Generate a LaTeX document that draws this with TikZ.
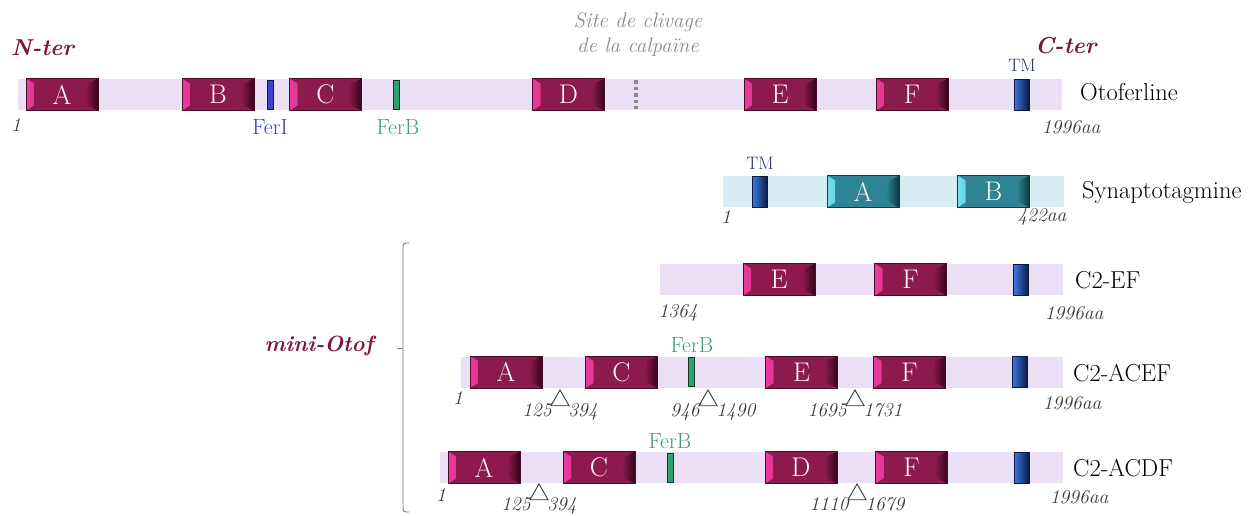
\documentclass[tikz,border=0pt]{standalone}
\usepackage{fontspec}
\usetikzlibrary{shapes.geometric}

\definecolor{barLilac}{HTML}{EBDFF5}
\definecolor{synBlue}{HTML}{D8EDF3}
\definecolor{domMaroon}{HTML}{8C1A4C}
\definecolor{domPink}{HTML}{EC3A9C}
\definecolor{domDark}{HTML}{330619}
\definecolor{domEdge}{HTML}{4A0C26}
\definecolor{tealMain}{HTML}{2E8494}
\definecolor{tealLight}{HTML}{6FE0F0}
\definecolor{tealDark}{HTML}{0C3840}
\definecolor{tealEdge}{HTML}{0F3A44}
\definecolor{tmNavy}{HTML}{0C1840}
\definecolor{tmBlue}{HTML}{3A7AE8}
\definecolor{ferIBlue}{HTML}{3842D4}
\definecolor{ferBGreen}{HTML}{2FA070}
\definecolor{terRed}{HTML}{7A1441}
\definecolor{ferITxt}{HTML}{3A3AC8}
\definecolor{ferBTxt}{HTML}{3A9E72}
\definecolor{tmTxt}{HTML}{1F2E6E}
\definecolor{siteGray}{HTML}{8A8A8A}
\definecolor{numGray}{HTML}{3A3A3A}

\begin{document}
\begin{tikzpicture}
[x=1pt,y=-1pt,%
  barDecorate/.style={fill=barLilac,draw=none,inner sep=0pt,minimum height=31pt},%
  bevelDecorate/.style n args={4}{draw=#4,line width=0.7pt,fill=#1,inner sep=0pt,
    minimum width=72pt,minimum height=32pt,text=white!92!pink,
    font=\fontsize{27}{27}\selectfont,
    path picture={
      \fill[left color=#2,right color=#1]
        (path picture bounding box.north west)
        -- ([xshift=8pt,yshift=-5pt]path picture bounding box.north west)
        -- ([xshift=8pt,yshift=5pt]path picture bounding box.south west)
        -- (path picture bounding box.south west) -- cycle;
      \fill[left color=#1,right color=#3]
        (path picture bounding box.north east)
        -- ([xshift=-10pt,yshift=-5pt]path picture bounding box.north east)
        .. controls ([xshift=-13pt,yshift=-3pt]path picture bounding box.east) ..
        ([xshift=-10pt,yshift=5pt]path picture bounding box.south east)
        -- (path picture bounding box.south east) -- cycle;
    }},%
  c2Decorate/.style={bevelDecorate={domMaroon}{domPink}{domDark}{domEdge}},%
  tealDecorate/.style={bevelDecorate={tealMain}{tealLight}{tealDark}{tealEdge}},%
  tmDecorate/.style={draw=tmNavy,line width=0.8pt,left color=tmBlue,right color=tmNavy,
    inner sep=0pt,minimum width=15pt,minimum height=31pt},%
  ferDecorate/.style={draw=#1!35!black,line width=0.8pt,fill=#1,
    inner sep=0pt,minimum width=6pt,minimum height=29pt},%
  delDecorate/.style={shape=regular polygon,regular polygon sides=3,draw=numGray,
    line width=0.9pt,inner sep=0pt,outer sep=0pt,minimum size=21pt},%
  numDecorate/.style={text=numGray,inner sep=0pt,font=\fontsize{19.5}{19.5}\selectfont\itshape},%
  nameDecorate/.style={anchor=west,inner sep=0pt,font=\fontsize{24.5}{24.5}\selectfont},%
  terDecorate/.style={text=terRed,inner sep=0pt,font=\fontsize{23}{23}\selectfont\bfseries\itshape},%
  tagDecorate/.style={inner sep=0pt,font=\fontsize{22}{22}\selectfont},%
  tmTag/.style={inner sep=0pt,text=tmTxt,font=\fontsize{18}{18}\selectfont}]
\useasboundingbox (0,0) rectangle (1255,515);
%% otoferline
\node[barDecorate,minimum width=1044pt] (oto) at (540,94.5) {};
\foreach \nodename/\x in {A/62,B/218,C/325.5,D/568.5,E/780,F/912}
  \node[c2Decorate] (oto\nodename) at (\x,94.5) {\nodename};
\node[ferDecorate=ferIBlue] (otoFerI) at (270.5,94.5) {};
\node[ferDecorate=ferBGreen] (otoFerB) at (396.5,94.5) {};
\node[tmDecorate] (otoTM) at (1021.5,94.5) {};
\draw[siteGray,line width=3.5pt,dash pattern=on 3.5pt off 3pt] (636,80) -- (636,109);
\node[terDecorate,anchor=west] at (11,48) {N-ter};
\node[terDecorate,anchor=west] at (1035,46) {C-ter};
\node[tmTag] at (1022,65) {TM};
\node[tagDecorate,text=ferITxt] at (270,127) {FerI};
\node[tagDecorate,text=ferBTxt] at (398,127) {FerB};
\node[tagDecorate,text=siteGray,font=\fontsize{21}{21}\selectfont\itshape] at (638,22) {Site de clivage};
\node[tagDecorate,text=siteGray,font=\fontsize{21}{21}\selectfont\itshape] at (638,47) {de la calpaïne};
\node[numDecorate] at (16,125) {1};
\node[numDecorate] at (1071,127) {1996aa};
\node[nameDecorate] at (1080,92) {Otoferline};
%% synaptotagmine
\node[barDecorate,fill=synBlue,minimum width=341pt] (syn) at (893.5,191.5) {};
\foreach \nodename/\x in {A/863,B/993.5}
  \node[tealDecorate] (syn\nodename) at (\x,191.5) {\nodename};
\node[tmDecorate] (synTM) at (760,191.5) {};
\node[tmTag] at (760,163) {TM};
\node[numDecorate] at (726,217) {1};
\node[numDecorate] at (1042,217) {422aa};
\node[nameDecorate] at (1082,192) {Synaptotagmine};
%% C2-EF
\node[barDecorate,minimum width=403pt] (ef) at (861.5,279.5) {};
\foreach \nodename/\x in {E/779,F/910.5}
  \node[c2Decorate] (ef\nodename) at (\x,279.5) {\nodename};
\node[tmDecorate] (efTM) at (1021,279.5) {};
\node[numDecorate] at (678,313) {1364};
\node[numDecorate] at (1074,313) {1996aa};
\node[nameDecorate] at (1075,280) {C2-EF};
%% C2-ACEF
\node[barDecorate,minimum width=602pt] (acef) at (762,372) {};
\foreach \nodename/\x in {A/506,C/621.5,E/801.5,F/909.5}
  \node[c2Decorate] (acef\nodename) at (\x,372) {\nodename};
\node[ferDecorate=ferBGreen] (acefFerB) at (691,372) {};
\node[tmDecorate] (acefTM) at (1019.5,372) {};
\node[tagDecorate,text=ferBTxt] at (692,345) {FerB};
\foreach \tri/\x/\lo/\hi in {1/560/125/394,2/708/946/1490,3/855/1695/1731}
{
  \node[delDecorate] (acefT\tri) at (\x,400.5) {};
  \node[numDecorate,anchor=north east] at ([xshift=1pt,yshift=2pt]acefT\tri.corner 2) {\lo};
  \node[numDecorate,anchor=north west] at ([xshift=-1pt,yshift=2pt]acefT\tri.corner 3) {\hi};
}
\node[numDecorate] at (458,398) {1};
\node[numDecorate] at (1072,403) {1996aa};
\node[nameDecorate] at (1073,373) {C2-ACEF};
%% C2-ACDF
\node[barDecorate,minimum width=623pt] (acdf) at (751.5,467.5) {};
\foreach \nodename/\x in {A/484,C/599,D/801,F/911.5}
  \node[c2Decorate] (acdf\nodename) at (\x,467.5) {\nodename};
\node[ferDecorate=ferBGreen] (acdfFerB) at (670,467.5) {};
\node[tmDecorate] (acdfTM) at (1021.5,467.5) {};
\node[tagDecorate,text=ferBTxt] at (670,441) {FerB};
\foreach \tri/\x/\lo/\hi in {1/539/125/394,2/857/1110/1679}
{
  \node[delDecorate] (acdfT\tri) at (\x,494.5) {};
  \node[numDecorate,anchor=north east] at ([xshift=1pt,yshift=2pt]acdfT\tri.corner 2) {\lo};
  \node[numDecorate,anchor=north west] at ([xshift=-1pt,yshift=2pt]acdfT\tri.corner 3) {\hi};
}
\node[numDecorate] at (441,495) {1};
\node[numDecorate] at (1079,497) {1996aa};
\node[nameDecorate] at (1073,468) {C2-ACDF};
%% mini-otof bracket
\draw[numGray!70,line width=0.9pt,rounded corners=3pt] (409,243) -| (403,512) -- (409,512);
\draw[numGray!70,line width=0.9pt] (403,348) -- (397,349);
\node[terDecorate,font=\fontsize{22}{22}\selectfont\bfseries\itshape] at (319,346) {mini-Otof};
\end{tikzpicture}
\end{document}
